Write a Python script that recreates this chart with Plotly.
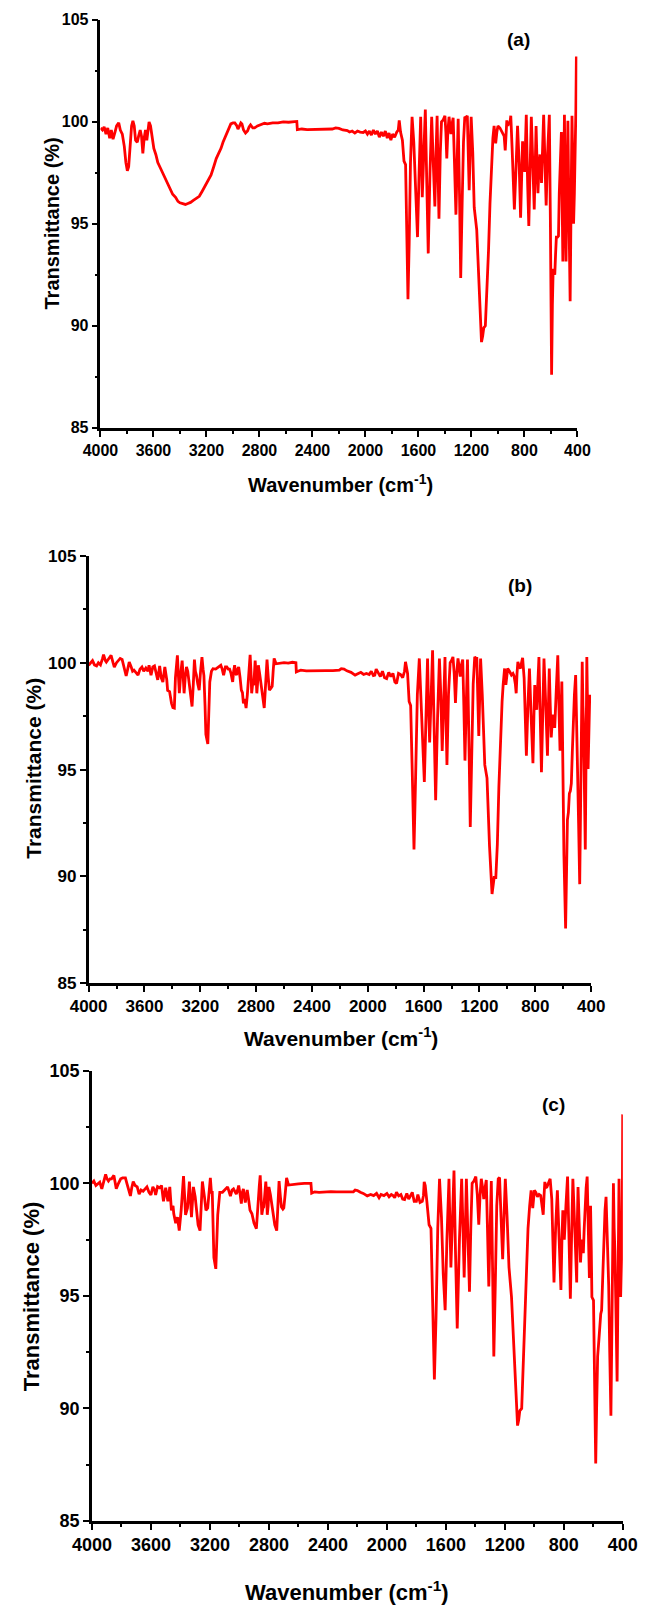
import plotly.graph_objects as go

W, H = 653, 1615

# ---------------- data: (wavenumber cm-1, transmittance %) ----------------
spectrum_a = [
    (4000, 99.7), (3985, 99.6), (3972, 99.75), (3958, 99.4), (3945, 99.7), (3930, 99.2),
    (3918, 99.6), (3905, 99.15), (3890, 99.5), (3878, 99.8), (3862, 99.95), (3850, 99.6),
    (3835, 99.4), (3820, 98.8), (3808, 98.0), (3797, 97.6), (3787, 97.8), (3775, 99.0),
    (3765, 99.8), (3755, 100.05), (3745, 99.8), (3735, 99.1), (3722, 99.0), (3712, 99.3),
    (3700, 99.6), (3690, 99.3), (3680, 98.45), (3670, 99.2), (3660, 99.6), (3650, 99.1),
    (3642, 99.6), (3633, 100.0), (3622, 99.8), (3610, 99.3), (3597, 98.7), (3582, 98.4),
    (3567, 98.0), (3545, 97.7), (3523, 97.4), (3500, 97.1), (3478, 96.75), (3455, 96.45),
    (3433, 96.3), (3415, 96.1), (3400, 96.03), (3380, 96.0), (3359, 95.95), (3340, 96.0),
    (3320, 96.05), (3299, 96.15), (3275, 96.25), (3254, 96.35), (3232, 96.6), (3210, 96.85),
    (3188, 97.1), (3165, 97.4), (3145, 97.8), (3126, 98.2), (3108, 98.45), (3090, 98.7),
    (3075, 99.0), (3060, 99.25), (3040, 99.6), (3016, 99.9), (3000, 99.95), (2986, 99.95),
    (2970, 99.8), (2962, 99.65), (2950, 99.8), (2940, 99.95), (2932, 99.9), (2920, 99.6),
    (2905, 99.45), (2890, 99.55), (2878, 99.75), (2867, 99.85), (2850, 99.7), (2837, 99.7),
    (2815, 99.8), (2790, 99.85), (2762, 99.93), (2740, 99.9), (2700, 99.95), (2660, 99.95),
    (2620, 100.0), (2580, 99.98), (2540, 100.02), (2518, 100.02), (2514, 99.62), (2480, 99.65),
    (2440, 99.62), (2400, 99.63), (2350, 99.62), (2300, 99.63), (2250, 99.65), (2225, 99.7),
    (2200, 99.68), (2170, 99.6), (2136, 99.57), (2120, 99.5), (2100, 99.55), (2080, 99.45),
    (2060, 99.55), (2040, 99.5), (2017, 99.48), (2000, 99.55), (1985, 99.4), (1970, 99.55),
    (1955, 99.35), (1940, 99.6), (1925, 99.4), (1910, 99.55), (1895, 99.25), (1880, 99.5),
    (1865, 99.3), (1850, 99.55), (1835, 99.2), (1822, 99.45), (1808, 99.1), (1795, 99.4),
    (1780, 99.25), (1763, 99.5), (1752, 99.6), (1745, 100.07), (1735, 99.5), (1721, 99.1),
    (1709, 98.07), (1697, 97.9), (1688, 95.0), (1679, 91.3), (1670, 94.0), (1660, 98.0),
    (1648, 100.25), (1635, 99.0), (1620, 96.5), (1607, 94.35), (1595, 97.5), (1583, 100.25),
    (1571, 96.3), (1560, 98.5), (1548, 100.6), (1537, 97.0), (1526, 93.55), (1513, 97.5),
    (1500, 100.25), (1488, 98.0), (1476, 95.85), (1467, 98.5), (1459, 100.3), (1452, 97.5),
    (1445, 95.25), (1435, 98.5), (1426, 100.0), (1413, 100.1), (1400, 100.3), (1393, 99.5),
    (1386, 98.2), (1378, 99.5), (1369, 100.25), (1362, 99.8), (1355, 99.4), (1346, 99.9),
    (1338, 100.2), (1328, 98.0), (1317, 95.45), (1308, 98.0), (1300, 100.15), (1290, 96.5),
    (1281, 92.35), (1270, 96.0), (1260, 99.0), (1250, 100.25), (1240, 100.2), (1231, 100.3),
    (1224, 98.5), (1217, 96.65), (1210, 98.5), (1202, 100.25), (1190, 98.5), (1179, 95.8),
    (1160, 94.7), (1141, 91.3), (1124, 89.2), (1115, 89.5), (1107, 89.9), (1095, 90.0),
    (1083, 91.5), (1071, 93.7), (1060, 96.0), (1048, 98.2), (1038, 99.2), (1029, 99.8),
    (1017, 98.95), (1008, 99.5), (1000, 99.8), (985, 99.7), (964, 99.45), (953, 99.3),
    (945, 98.6), (939, 99.4), (933, 100.07), (925, 99.8), (917, 100.0), (910, 99.9),
    (903, 100.3), (893, 98.7), (885, 97.0), (876, 95.7), (865, 97.5), (852, 99.8),
    (840, 98.0), (829, 95.3), (822, 97.0), (814, 99.05), (806, 98.0), (798, 97.55),
    (792, 99.0), (786, 100.35), (776, 97.0), (767, 94.9), (758, 97.5), (748, 100.25),
    (737, 98.0), (726, 95.7), (718, 98.0), (712, 99.8), (705, 98.0), (698, 96.5),
    (690, 97.8), (683, 98.4), (677, 97.8), (671, 97.0), (664, 98.5), (655, 100.35),
    (645, 98.0), (636, 95.9), (625, 98.5), (616, 100.0), (612, 100.35), (604, 95.0),
    (595, 87.6), (589, 91.0), (583, 92.8), (577, 92.6), (571, 92.5), (565, 93.5),
    (559, 94.35), (550, 94.35), (543, 94.4), (537, 96.5), (531, 98.2), (526, 98.8),
    (521, 99.5), (516, 96.5), (510, 93.15), (504, 96.5), (498, 100.35), (492, 96.0),
    (486, 93.15), (479, 97.0), (472, 100.05), (465, 96.0), (455, 91.2), (448, 96.0),
    (441, 100.3), (435, 98.0), (429, 95.0), (423, 96.5), (417, 98.1), (412, 100.5),
    (408, 103.2),
]

spectrum_b = [
    (4000, 99.88), (3990, 99.95), (3972, 100.1), (3958, 99.9), (3943, 99.85), (3930, 100.0),
    (3915, 99.9), (3900, 100.2), (3893, 100.38), (3880, 100.1), (3873, 100.03), (3855, 100.2),
    (3839, 100.34), (3825, 100.0), (3816, 99.8), (3800, 100.0), (3785, 100.15), (3774, 100.2),
    (3760, 100.15), (3745, 99.8), (3731, 99.38), (3720, 99.7), (3709, 100.03), (3695, 99.8),
    (3685, 99.6), (3675, 99.65), (3660, 99.5), (3646, 99.42), (3632, 99.7), (3618, 99.8),
    (3605, 99.6), (3590, 99.75), (3575, 99.6), (3567, 99.88), (3553, 99.42), (3540, 99.8),
    (3528, 99.85), (3520, 99.6), (3505, 99.2), (3491, 99.85), (3480, 99.3), (3468, 99.1),
    (3454, 99.8), (3440, 99.2), (3434, 98.7), (3420, 98.65), (3412, 98.3), (3406, 98.1),
    (3396, 97.9), (3386, 97.88), (3378, 99.3), (3372, 100.0), (3364, 100.34), (3356, 99.3),
    (3350, 98.57), (3340, 99.5), (3330, 100.1), (3322, 99.3), (3316, 98.57), (3308, 99.3),
    (3299, 99.8), (3290, 99.6), (3279, 99.1), (3270, 98.5), (3259, 97.95), (3250, 99.0),
    (3242, 100.15), (3235, 99.6), (3228, 99.42), (3218, 99.0), (3208, 98.72), (3198, 99.6),
    (3188, 100.26), (3180, 99.7), (3174, 99.4), (3166, 98.0), (3160, 96.65), (3146, 96.2),
    (3139, 97.5), (3132, 99.1), (3120, 99.6), (3109, 99.72), (3090, 99.7), (3070, 99.8),
    (3053, 99.88), (3043, 99.7), (3033, 99.42), (3020, 99.8), (3010, 99.8), (3000, 99.7),
    (2990, 99.7), (2980, 99.5), (2968, 99.1), (2961, 99.6), (2954, 99.88), (2947, 99.5),
    (2940, 99.42), (2932, 99.7), (2925, 99.8), (2915, 99.3), (2906, 98.72), (2898, 98.6),
    (2891, 98.1), (2882, 98.3), (2872, 97.88), (2863, 98.5), (2855, 99.42), (2849, 99.9),
    (2843, 100.37), (2837, 99.6), (2832, 98.57), (2825, 99.0), (2818, 98.95), (2812, 99.5),
    (2807, 100.1), (2801, 99.5), (2795, 98.57), (2790, 99.0), (2784, 99.88), (2775, 99.5),
    (2764, 98.95), (2755, 98.4), (2748, 98.0), (2742, 97.88), (2732, 99.0), (2722, 100.15),
    (2713, 99.3), (2705, 98.72), (2695, 98.8), (2685, 98.9), (2678, 99.6), (2671, 100.2),
    (2657, 99.95), (2630, 99.97), (2600, 100.0), (2570, 99.98), (2540, 100.02), (2515, 100.0),
    (2512, 99.57), (2501, 99.6), (2480, 99.65), (2440, 99.62), (2400, 99.63), (2350, 99.62),
    (2300, 99.63), (2250, 99.63), (2204, 99.65), (2190, 99.72), (2170, 99.7), (2150, 99.62),
    (2120, 99.55), (2091, 99.42), (2070, 99.5), (2050, 99.55), (2030, 99.45), (2010, 99.5),
    (1990, 99.45), (1975, 99.6), (1960, 99.4), (1950, 99.42), (1940, 99.7), (1925, 99.5),
    (1910, 99.35), (1895, 99.6), (1880, 99.3), (1865, 99.26), (1850, 99.55), (1835, 99.35),
    (1820, 99.5), (1806, 99.1), (1794, 99.03), (1780, 99.5), (1765, 99.45), (1750, 99.3),
    (1737, 99.6), (1730, 100.04), (1722, 99.6), (1715, 99.5), (1704, 98.19), (1693, 98.0),
    (1682, 95.0), (1669, 91.26), (1658, 94.5), (1645, 98.5), (1631, 100.2), (1620, 98.5),
    (1607, 96.0), (1595, 94.42), (1583, 97.5), (1572, 100.2), (1565, 98.0), (1557, 96.27),
    (1546, 98.5), (1536, 100.58), (1525, 97.0), (1514, 93.57), (1500, 97.5), (1487, 100.2),
    (1477, 98.5), (1467, 95.87), (1457, 98.0), (1447, 100.27), (1440, 97.5), (1433, 95.22),
    (1422, 98.5), (1410, 100.0), (1400, 100.1), (1390, 100.27), (1381, 99.5), (1372, 98.12),
    (1363, 99.5), (1354, 100.2), (1346, 99.8), (1338, 99.35), (1329, 99.9), (1320, 100.15),
    (1312, 98.0), (1304, 95.42), (1295, 98.0), (1286, 100.15), (1276, 96.5), (1266, 92.31),
    (1256, 95.5), (1245, 99.0), (1234, 100.27), (1226, 100.2), (1219, 100.2), (1212, 98.5),
    (1205, 96.57), (1198, 98.5), (1192, 100.2), (1180, 98.5), (1162, 95.22), (1146, 94.6),
    (1128, 91.41), (1110, 89.18), (1102, 89.5), (1095, 89.95), (1083, 89.95), (1072, 91.5),
    (1061, 94.19), (1050, 96.5), (1038, 98.19), (1030, 99.0), (1020, 99.73), (1011, 98.96),
    (1004, 99.5), (998, 99.73), (985, 99.6), (971, 99.42), (960, 99.5), (953, 99.4),
    (943, 99.0), (937, 98.57), (931, 99.5), (925, 100.04), (915, 99.8), (907, 99.73),
    (899, 100.0), (891, 100.23), (880, 99.27), (872, 97.5), (864, 95.65), (853, 98.0),
    (842, 99.73), (830, 97.5), (817, 95.3), (810, 97.5), (804, 98.96), (797, 98.0),
    (790, 97.8), (782, 99.0), (774, 100.27), (765, 97.5), (756, 94.88), (747, 97.5),
    (738, 100.2), (725, 98.0), (713, 95.65), (706, 98.0), (700, 99.73), (693, 98.0),
    (686, 96.5), (679, 97.2), (673, 97.57), (667, 97.2), (661, 96.95), (650, 98.7),
    (639, 100.35), (631, 98.0), (623, 95.88), (616, 97.5), (610, 99.12), (606, 97.0),
    (603, 94.96), (595, 91.0), (583, 87.57), (577, 90.5), (570, 92.65), (563, 93.0),
    (556, 93.88), (549, 94.0), (542, 94.35), (535, 95.8), (529, 97.27), (520, 98.5),
    (511, 99.42), (504, 97.5), (498, 95.42), (490, 92.5), (482, 89.64), (473, 95.0),
    (464, 100.04), (459, 98.0), (455, 97.27), (448, 94.0), (442, 91.26), (436, 96.0),
    (431, 100.27), (426, 98.0), (422, 95.03), (417, 96.5), (410, 98.5),
]

spectrum_c = [
    (4000, 100.0), (3987, 100.1), (3973, 99.9), (3960, 100.0), (3947, 100.05), (3933, 99.75),
    (3920, 100.1), (3907, 100.4), (3898, 100.2), (3888, 100.1), (3877, 100.2), (3867, 100.2),
    (3851, 100.35), (3843, 100.0), (3835, 99.76), (3820, 100.0), (3805, 100.2), (3792, 100.24),
    (3773, 100.24), (3763, 100.0), (3755, 99.8), (3739, 99.44), (3730, 99.8), (3720, 100.08),
    (3707, 99.9), (3693, 99.84), (3680, 99.52), (3667, 99.7), (3653, 99.65), (3640, 99.75),
    (3627, 99.84), (3613, 99.6), (3600, 99.48), (3587, 99.84), (3575, 99.7), (3568, 99.48),
    (3555, 99.85), (3541, 99.8), (3528, 99.9), (3515, 99.2), (3500, 99.8), (3485, 99.2),
    (3472, 99.84), (3461, 98.8), (3450, 99.0), (3445, 98.64), (3432, 98.23), (3420, 98.5),
    (3408, 97.9), (3395, 98.8), (3385, 99.8), (3379, 100.32), (3372, 99.5), (3365, 98.6),
    (3352, 98.9), (3339, 100.08), (3325, 98.5), (3312, 99.84), (3300, 99.4), (3290, 98.7),
    (3280, 98.15), (3267, 97.9), (3258, 99.0), (3251, 100.08), (3237, 99.4), (3227, 98.8),
    (3215, 98.9), (3207, 99.5), (3197, 100.24), (3190, 99.6), (3184, 99.6), (3178, 98.0),
    (3173, 96.7), (3160, 96.2), (3153, 97.5), (3147, 98.6), (3133, 99.6), (3115, 99.6),
    (3100, 99.7), (3080, 99.84), (3061, 99.43), (3050, 99.7), (3040, 99.75), (3030, 99.6),
    (3021, 99.52), (3012, 99.7), (3005, 99.9), (2995, 99.5), (2987, 99.1), (2980, 99.6),
    (2973, 99.75), (2960, 99.15), (2947, 99.7), (2938, 99.3), (2928, 98.8), (2915, 98.65),
    (2901, 98.23), (2885, 97.98), (2878, 98.8), (2872, 99.4), (2865, 99.9), (2859, 100.35),
    (2853, 99.5), (2848, 98.6), (2841, 98.9), (2835, 98.95), (2828, 99.5), (2821, 100.08),
    (2815, 99.4), (2811, 98.6), (2805, 99.0), (2800, 99.84), (2790, 99.5), (2780, 99.0),
    (2773, 98.8), (2760, 98.15), (2747, 97.9), (2738, 99.0), (2731, 100.1), (2722, 99.4),
    (2715, 98.95), (2705, 98.85), (2699, 98.9), (2690, 99.5), (2680, 100.24), (2667, 99.92),
    (2640, 99.95), (2600, 99.97), (2560, 100.0), (2515, 100.0), (2510, 99.56), (2490, 99.62),
    (2460, 99.6), (2420, 99.62), (2380, 99.63), (2340, 99.62), (2300, 99.62), (2260, 99.63),
    (2227, 99.62), (2215, 99.7), (2200, 99.68), (2180, 99.6), (2160, 99.55), (2133, 99.44),
    (2110, 99.5), (2090, 99.45), (2070, 99.55), (2053, 99.36), (2040, 99.5), (2020, 99.45),
    (2000, 99.55), (1985, 99.4), (1970, 99.5), (1958, 99.45), (1947, 99.36), (1935, 99.6),
    (1920, 99.44), (1905, 99.5), (1893, 99.3), (1880, 99.28), (1865, 99.55), (1852, 99.3),
    (1840, 99.44), (1828, 99.6), (1815, 99.2), (1800, 99.2), (1790, 99.5), (1775, 99.15),
    (1760, 99.2), (1752, 99.45), (1747, 100.06), (1740, 99.9), (1729, 99.2), (1714, 98.16),
    (1701, 98.0), (1690, 95.0), (1678, 91.29), (1667, 94.0), (1655, 98.0), (1643, 100.2),
    (1630, 98.5), (1618, 96.0), (1605, 94.36), (1593, 97.5), (1579, 100.2), (1572, 98.0),
    (1566, 96.26), (1555, 98.5), (1545, 100.57), (1535, 97.0), (1523, 93.55), (1508, 97.5),
    (1493, 100.2), (1484, 98.0), (1476, 95.82), (1468, 98.0), (1461, 100.2), (1450, 97.5),
    (1440, 95.19), (1431, 98.0), (1422, 100.0), (1410, 100.1), (1397, 100.3), (1387, 99.5),
    (1377, 98.16), (1368, 99.5), (1360, 100.2), (1351, 99.8), (1343, 99.3), (1334, 99.8),
    (1326, 100.15), (1318, 98.0), (1309, 95.42), (1300, 98.0), (1292, 100.1), (1284, 96.5),
    (1275, 92.31), (1265, 95.5), (1255, 99.0), (1245, 100.2), (1236, 100.26), (1226, 98.5),
    (1215, 96.63), (1206, 98.5), (1197, 100.2), (1185, 98.5), (1172, 96.26), (1155, 94.95),
    (1133, 91.87), (1114, 89.24), (1106, 89.5), (1099, 89.9), (1086, 90.0), (1075, 92.0),
    (1064, 94.07), (1053, 96.5), (1043, 98.0), (1032, 99.0), (1022, 99.69), (1011, 98.9),
    (1005, 99.5), (1000, 99.69), (990, 99.6), (979, 99.4), (968, 99.5), (957, 99.45),
    (948, 99.0), (940, 98.6), (934, 99.5), (929, 100.06), (921, 99.8), (914, 99.85),
    (905, 100.0), (893, 100.2), (882, 99.3), (875, 97.5), (867, 95.6), (856, 98.0),
    (844, 99.69), (832, 97.5), (820, 95.26), (813, 97.5), (807, 98.8), (802, 98.0),
    (797, 97.5), (786, 99.0), (775, 100.3), (765, 97.5), (756, 94.87), (748, 97.5),
    (739, 100.2), (726, 98.0), (713, 95.6), (708, 98.5), (704, 99.83), (695, 98.0),
    (687, 96.48), (679, 97.5), (673, 97.2), (668, 96.9), (662, 98.0), (657, 98.8),
    (649, 99.8), (642, 100.3), (635, 98.0), (627, 95.8), (623, 97.5), (619, 99.0),
    (614, 97.0), (610, 94.95), (599, 94.8), (591, 90.0), (584, 87.56), (578, 90.0),
    (571, 92.31), (563, 93.0), (556, 93.76), (550, 94.2), (544, 94.36), (536, 96.0),
    (529, 97.5), (521, 98.8), (514, 99.4), (505, 97.5), (496, 95.45), (489, 92.5),
    (481, 89.68), (472, 95.0), (464, 100.0), (459, 98.0), (454, 97.0), (446, 94.0),
    (439, 91.2), (432, 96.0), (426, 100.2), (420, 97.5), (415, 94.95), (409, 96.5),
    (404, 98.16), (401, 103.06),
]

panel_labels = ["(a)", "(b)", "(c)"]
x_ticks = [4000, 3600, 3200, 2800, 2400, 2000, 1600, 1200, 800, 400]
y_ticks = [85, 90, 95, 100, 105]
x_title = "Wavenumber (cm<sup>-1</sup>)"
y_title = "Transmittance (%)"

# ---------------- layout geometry (pixels) ----------------
panels = [
    dict(data=spectrum_a, x0=85, x1=589, yt=10, yb=423, tick=16, title=20,
         lab=(527, 30), ytl=(34, 216), xtl=(339, 479)),
    dict(data=spectrum_b, x0=72.5, x1=603.5, yt=552.7, yb=985.5, tick=17, title=21,
         lab=(528, 583), ytl=(14, 768), xtl=(339, 1040)),
    dict(data=spectrum_c, x0=76, x1=637, yt=1074, yb=1530, tick=18, title=22,
         lab=(564, 1108), ytl=(13, 1302), xtl=(346, 1601)),
]

FONT = "Liberation Sans, Arial, sans-serif"
fig = go.Figure()
annotations = []
layout = {}

for i, p in enumerate(panels):
    n = "" if i == 0 else str(i + 1)
    wn = [d[0] for d in p["data"]]
    tr = [d[1] for d in p["data"]]
    fig.add_trace(go.Scatter(x=wn, y=tr, mode="lines", xaxis="x" + n, yaxis="y" + n,
                             line=dict(color="#ff0000", width=2.8), showlegend=False,
                             hoverinfo="skip"))
    common = dict(showline=True, linecolor="black", linewidth=2.5, ticks="outside",
                  ticklen=6, tickwidth=2, tickcolor="black", showgrid=False, zeroline=False,
                  tickfont=dict(family=FONT, size=p["tick"], color="black", weight="bold"))
    layout["xaxis" + n] = dict(
        common, domain=[p["x0"] / W, p["x1"] / W], range=[4000, 400],
        anchor="y" + n, tickvals=x_ticks, tickformat="d",
        minor=dict(ticks="outside", ticklen=3, tickwidth=2, tickcolor="black", dtick=200,
                   tick0=0, showgrid=False))
    layout["yaxis" + n] = dict(
        common, domain=[1 - p["yb"] / H, 1 - p["yt"] / H], range=[85, 105],
        anchor="x" + n, tickvals=y_ticks,
        minor=dict(ticks="outside", ticklen=3, tickwidth=2, tickcolor="black", dtick=2.5,
                   tick0=0, showgrid=False))
    annotations.append(dict(text=panel_labels[i], x=p["lab"][0] / W, y=1 - p["lab"][1] / H,
                            xref="paper", yref="paper", showarrow=False,
                            xanchor="center", yanchor="middle",
                            font=dict(family=FONT, size=19, color="black", weight="bold")))
    annotations.append(dict(text=y_title, x=p["ytl"][0] / W, y=1 - p["ytl"][1] / H,
                            xref="paper", yref="paper", showarrow=False, textangle=-90,
                            xanchor="center", yanchor="middle",
                            font=dict(family=FONT, size=p["title"], color="black", weight="bold")))
    annotations.append(dict(text=x_title, x=p["xtl"][0] / W, y=1 - p["xtl"][1] / H,
                            xref="paper", yref="paper", showarrow=False,
                            xanchor="center", yanchor="middle",
                            font=dict(family=FONT, size=p["title"], color="black", weight="bold")))

fig.update_layout(width=W, height=H, autosize=False,
                  margin=dict(l=0, r=0, t=0, b=0, pad=0),
                  paper_bgcolor="white", plot_bgcolor="white",
                  annotations=annotations, **layout)

fig.write_html("out.html", config={"displayModeBar": False},
               post_script="document.body.style.margin='0px';document.body.style.overflow='hidden';")
